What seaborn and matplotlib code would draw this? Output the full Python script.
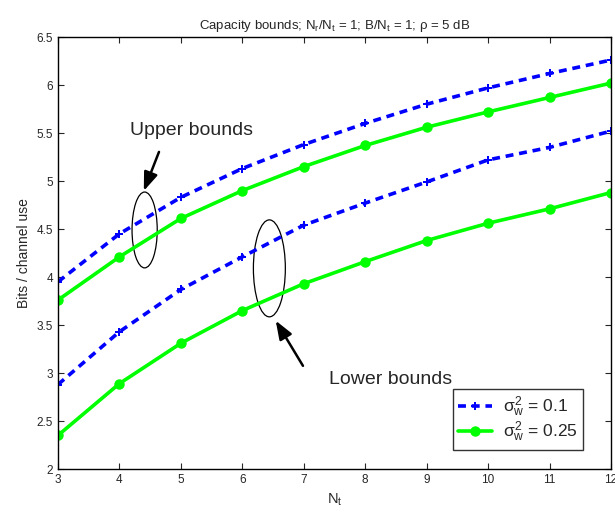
import matplotlib
matplotlib.use("Agg")
import matplotlib.pyplot as plt
from matplotlib.patches import Ellipse
from matplotlib.lines import Line2D
import seaborn as sns

nt = [3, 4, 5, 6, 7, 8, 9, 10, 11, 12]
upper_01 = [3.95, 4.45, 4.83, 5.13, 5.38, 5.60, 5.80, 5.97, 6.12, 6.26]
upper_025 = [3.76, 4.21, 4.61, 4.90, 5.15, 5.37, 5.56, 5.72, 5.87, 6.02]
lower_01 = [2.88, 3.43, 3.87, 4.21, 4.54, 4.77, 4.99, 5.22, 5.35, 5.52]
lower_025 = [2.35, 2.89, 3.31, 3.65, 3.93, 4.16, 4.38, 4.56, 4.71, 4.88]
legend_labels = [r"$\sigma_w^2$ = 0.1", r"$\sigma_w^2$ = 0.25"]

sns.set_style("ticks")
plt.rcParams["font.family"] = ["Liberation Sans", "DejaVu Sans"]
plt.rcParams["mathtext.fontset"] = "custom"
plt.rcParams["mathtext.rm"] = "Liberation Sans"
plt.rcParams["mathtext.it"] = "Liberation Sans"
plt.rcParams["mathtext.sf"] = "Liberation Sans"

fig = plt.figure(figsize=(6.15, 5.25), dpi=100)
ax = fig.add_axes([58 / 615, 1 - 469 / 525, (611 - 58) / 615, (469 - 37) / 525])

blue = "#0000ff"
green = "#00ff00"
for y in (upper_01, lower_01):
    sns.lineplot(x=nt, y=y, ax=ax, color=blue, linestyle=(0, (2.2, 1.6)), linewidth=2.6,
                 marker="P", markersize=6, markeredgewidth=0, markerfacecolor=blue)
for y in (upper_025, lower_025):
    sns.lineplot(x=nt, y=y, ax=ax, color=green, linestyle="-", linewidth=2.6,
                 marker="o", markersize=7.5, markeredgewidth=0, markerfacecolor=green)

ax.set_xlim(3, 12)
ax.set_ylim(2, 6.5)
ax.set_xticks(range(3, 13))
ax.set_yticks([2, 2.5, 3, 3.5, 4, 4.5, 5, 5.5, 6, 6.5])
ax.set_yticklabels(["2", "2.5", "3", "3.5", "4", "4.5", "5", "5.5", "6", "6.5"])
ax.tick_params(direction="in", top=True, right=True, labelsize=8.5, length=4, width=0.8)
for s in ax.spines.values():
    s.set_linewidth(1.0)
    s.set_color("black")

ax.set_xlabel(r"N$_t$", fontsize=10.5)
ax.set_ylabel("Bits / channel use", fontsize=10)
ax.set_title(r"Capacity bounds; N$_r$/N$_t$ = 1; B/N$_t$ = 1; ρ = 5 dB", fontsize=9.5, pad=6)

ax.add_patch(Ellipse((4.41, 4.49), 0.41, 0.79, fill=False, edgecolor="black", linewidth=0.9))
ax.add_patch(Ellipse((6.44, 4.09), 0.52, 1.01, fill=False, edgecolor="black", linewidth=0.9))

ax.annotate("", xy=(4.38, 4.87), xytext=(4.66, 5.33),
            arrowprops=dict(arrowstyle="-|>,head_width=0.3,head_length=0.8", color="black",
                            lw=1.8, mutation_scale=14))
ax.annotate("", xy=(6.52, 3.57), xytext=(7.01, 3.05),
            arrowprops=dict(arrowstyle="-|>,head_width=0.3,head_length=0.8", color="black",
                            lw=1.8, mutation_scale=14))
ax.text(5.18, 5.53, "Upper bounds", fontsize=14, ha="center", va="center")
ax.text(8.41, 2.93, "Lower bounds", fontsize=14, ha="center", va="center")

handles = [
    Line2D([], [], color=blue, linestyle=(0, (2.2, 1.6)), linewidth=2.6, marker="P",
           markersize=6, markeredgewidth=0),
    Line2D([], [], color=green, linestyle="-", linewidth=2.6, marker="o",
           markersize=7.5, markeredgewidth=0),
]
leg = ax.legend(handles, legend_labels, loc="lower right", bbox_to_anchor=(0.965, 0.025),
                fontsize=12.5, frameon=True, fancybox=False, edgecolor="black",
                handlelength=2.0, labelspacing=0.05, borderpad=0.3, handletextpad=0.6)
leg.get_frame().set_linewidth(1.0)

fig.savefig("out.png", dpi=100)
